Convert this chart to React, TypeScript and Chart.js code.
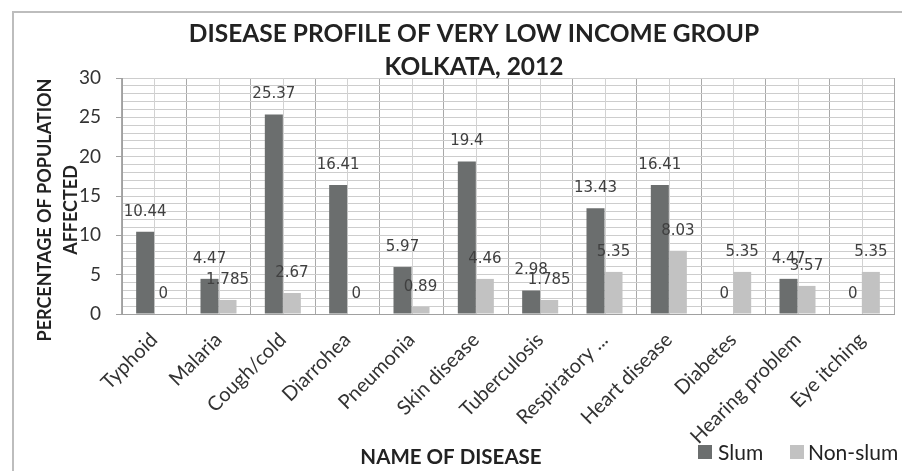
import { useEffect, useRef } from "react";
import { Chart, registerables } from "chart.js";

Chart.register(...registerables);

// Disease categories and the share (%) of each population group affected
const diseases = [
  "Typhoid",
  "Malaria",
  "Cough/cold",
  "Diarrohea",
  "Pneumonia",
  "Skin disease",
  "Tuberculosis",
  "Respiratory ...",
  "Heart disease",
  "Diabetes",
  "Hearing problem",
  "Eye itching",
];
const slum = [10.44, 4.47, 25.37, 16.41, 5.97, 19.4, 2.98, 13.43, 16.41, 0, 4.47, 0];
const nonSlum = [0, 1.785, 2.67, 0, 0.89, 4.46, 1.785, 5.35, 8.03, 5.35, 3.57, 5.35];

const seriesNames = ["Slum", "Non-slum"];
const seriesColors = ["#6b6e6e", "#c2c2c2"];

const titleLines = ["DISEASE PROFILE OF VERY LOW INCOME GROUP", "KOLKATA, 2012"];
const yTitleLines = ["PERCENTAGE OF POPULATION", "AFFECTED"];
const xTitle = "NAME OF DISEASE";

const W = 902;
const H = 471;

const decorations = {
  id: "decorations",
  beforeDatasetsDraw(chart: any) {
    // lighter guide lines through the middle of every category
    const { ctx, chartArea, scales } = chart;
    const x = scales.x;
    ctx.save();
    ctx.strokeStyle = "#d2d2d2";
    ctx.lineWidth = 1;
    diseases.forEach((_, i) => {
      const px = Math.round(x.getPixelForValue(i)) + 0.5;
      ctx.beginPath();
      ctx.moveTo(px, chartArea.top);
      ctx.lineTo(px, chartArea.bottom);
      ctx.stroke();
    });
    ctx.restore();
  },
  afterDatasetsDraw(chart: any) {
    // value labels above each bar
    const { ctx } = chart;
    ctx.save();
    ctx.font = "15px 'DejaVu Sans'";
    ctx.fillStyle = "#404040";
    ctx.textAlign = "center";
    ctx.textBaseline = "middle";
    chart.data.datasets.forEach((ds: any, di: number) => {
      const meta = chart.getDatasetMeta(di);
      meta.data.forEach((el: any, i: number) => {
        ctx.fillText(String(ds.data[i]), el.x, el.y - 20);
      });
    });
    ctx.restore();
  },
  afterDraw(chart: any) {
    const { ctx } = chart;
    ctx.save();

    // frame
    ctx.strokeStyle = "#bdbdbd";
    ctx.lineWidth = 2;
    ctx.beginPath();
    ctx.moveTo(13, H);
    ctx.lineTo(13, 12);
    ctx.lineTo(W, 12);
    ctx.stroke();

    // main title
    ctx.fillStyle = "#222";
    ctx.textAlign = "center";
    ctx.textBaseline = "middle";
    ctx.font = "bold 24.5px Lato";
    ctx.fillText(titleLines[0], 474, 34);
    ctx.fillText(titleLines[1], 474, 67);

    // y axis title
    ctx.font = "bold 18px Lato";
    ctx.save();
    ctx.translate(45, 210);
    ctx.rotate(-Math.PI / 2);
    ctx.fillText(yTitleLines[0], 0, 0);
    ctx.restore();
    ctx.save();
    ctx.translate(71, 210);
    ctx.rotate(-Math.PI / 2);
    ctx.fillText(yTitleLines[1], 0, 0);
    ctx.restore();

    // x axis title
    ctx.font = "bold 20.5px Lato";
    ctx.fillText(xTitle, 451, 457);

    // legend
    ctx.font = "21px Lato";
    ctx.textAlign = "left";
    const items = [
      { box: 698, text: 718 },
      { box: 790, text: 808 },
    ];
    items.forEach((it, i) => {
      ctx.fillStyle = seriesColors[i];
      ctx.fillRect(it.box, 445, 14, 14);
      ctx.fillStyle = "#222";
      ctx.fillText(seriesNames[i], it.text, 453);
    });

    ctx.restore();
  },
};

export default function App() {
  const canvasRef = useRef<HTMLCanvasElement | null>(null);

  useEffect(() => {
    const canvas = canvasRef.current;
    if (!canvas) return;
    const chart = new Chart(canvas, {
      type: "bar",
      data: {
        labels: diseases,
        datasets: [
          {
            label: seriesNames[0],
            data: slum,
            backgroundColor: seriesColors[0],
            categoryPercentage: 0.56,
            barPercentage: 1,
          },
          {
            label: seriesNames[1],
            data: nonSlum,
            backgroundColor: seriesColors[1],
            categoryPercentage: 0.56,
            barPercentage: 1,
          },
        ],
      },
      options: {
        responsive: false,
        maintainAspectRatio: false,
        animation: false,
        layout: { padding: { top: 78, right: 8, left: 0, bottom: 0 } },
        plugins: {
          legend: { display: false },
          title: { display: false },
          tooltip: { enabled: false },
        },
        scales: {
          x: {
            type: "category",
            afterFit(scale: any) {
              scale.height = 157;
            },
            grid: {
              offset: true,
              color: "#a9a9a9",
              lineWidth: 1,
              drawTicks: false,
            },
            border: { color: "#a0a0a0", width: 1 },
            ticks: {
              maxRotation: 45,
              minRotation: 45,
              autoSkip: false,
              padding: 14,
              color: "#333",
              font: { family: "Lato", size: 20 },
            },
          },
          y: {
            min: 0,
            max: 30,
            afterFit(scale: any) {
              scale.width = 122;
            },
            grid: {
              color: "#cdcdcd",
              lineWidth: 1,
              tickLength: 6,
              tickColor: (c: any) =>
                c.tick && c.tick.value % 5 === 0 ? "#a0a0a0" : "rgba(0,0,0,0)",
            },
            border: { color: "#a0a0a0", width: 1 },
            ticks: {
              stepSize: 1,
              autoSkip: false,
              padding: 15,
              color: "#333",
              font: { family: "Lato", size: 19 },
              callback: (v: any) => (Number(v) % 5 === 0 ? String(v) : ""),
            },
          },
        },
      },
      plugins: [decorations],
    });
    return () => chart.destroy();
  }, []);

  return (
    <div
      style={{
        position: "fixed",
        left: 0,
        top: 0,
        width: W,
        height: H,
        background: "#fff",
      }}
    >
      <canvas ref={canvasRef} width={W} height={H} style={{ display: "block" }} />
    </div>
  );
}
